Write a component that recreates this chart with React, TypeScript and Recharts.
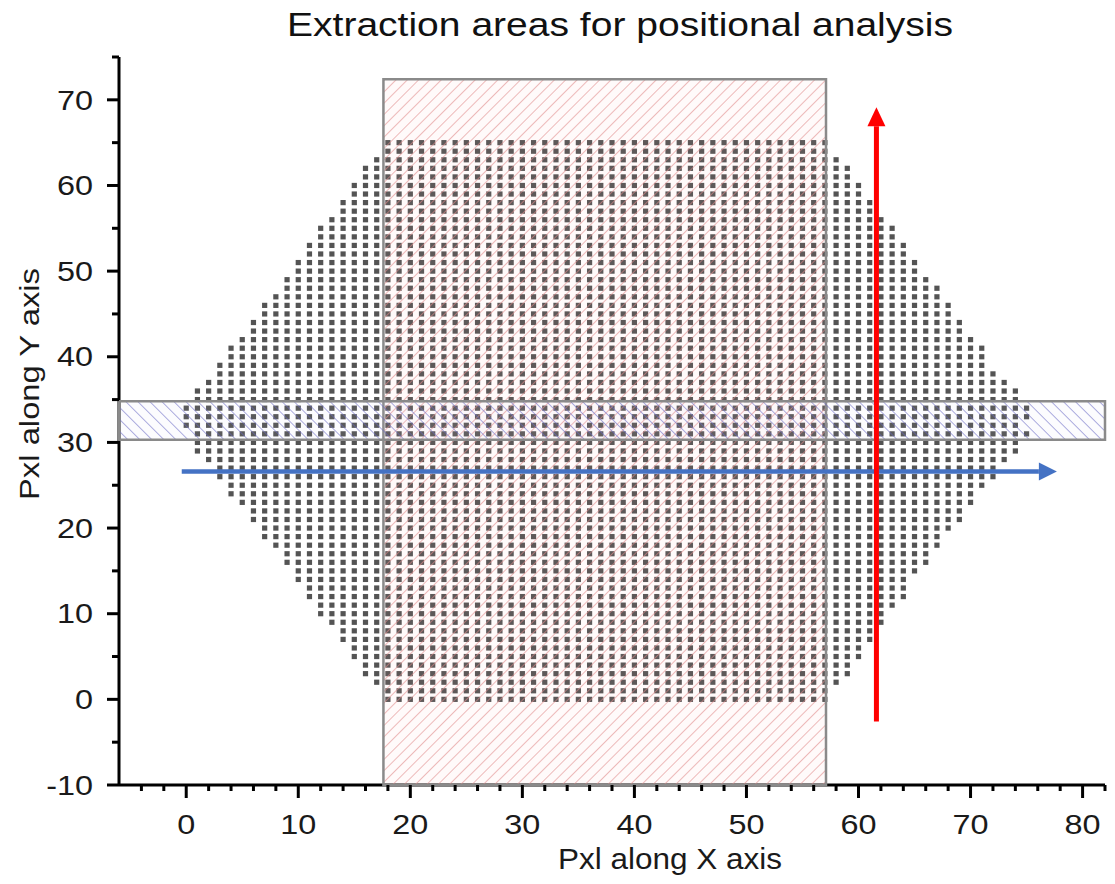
import React from "react";
import {
  ScatterChart, Scatter, XAxis, YAxis, ReferenceArea, ReferenceLine, ReferenceDot,
} from "recharts";

// occupied pixel columns per row (index = y, 0..65)
const rowStart = [
  18, 18, 17, 16, 16, 15, 15, 14, 14, 13, 12, 12, 11, 11, 10, 10, 9, 9, 8, 7,
  7, 6, 6, 5, 4, 4, 3, 3, 2, 1, 1, 1, 0, 0, 0, 1, 1, 2, 3, 3,
  4, 4, 5, 6, 6, 7, 7, 8, 9, 9, 10, 10, 11, 11, 12, 12, 13, 14, 14, 15,
  15, 16, 16, 17, 18, 18,
];
const rowEnd = [
  57, 57, 58, 59, 59, 60, 60, 61, 61, 62, 62, 63, 64, 64, 64, 65, 66, 66, 67, 67,
  68, 69, 69, 70, 70, 71, 72, 72, 73, 74, 74, 75, 74, 75, 75, 74, 74, 73, 72, 71,
  71, 71, 70, 69, 69, 68, 68, 67, 67, 66, 65, 65, 64, 64, 63, 63, 62, 61, 61, 60,
  60, 59, 59, 58, 57, 57,
];

const xTicks = [
  -4, -2, 0, 2, 4, 6, 8, 10, 12, 14, 16, 18, 20, 22, 24, 26, 28, 30, 32, 34, 36, 38, 40,
  42, 44, 46, 48, 50, 52, 54, 56, 58, 60, 62, 64, 66, 68, 70, 72, 74, 76, 78, 80, 82,
];
const yTicks = [-10, -5, 0, 5, 10, 15, 20, 25, 30, 35, 40, 45, 50, 55, 60, 65, 70, 75];

// extraction areas
const colBoxX = [17.6, 57.1];
const colBoxY = [-10, 72.4];
const rowBoxX = [-6, 82];
const rowBoxY = [30.3, 34.8];

// arrows: [start, where the head begins]
const redArrow = [{ x: 61.6, y: -2.6 }, { x: 61.6, y: 66.9 }];
const blueArrow = [{ x: -0.4, y: 26.6 }, { x: 76.1, y: 26.6 }];

const points = rowStart.flatMap((x0, y) => {
  const out: { x: number; y: number }[] = [];
  for (let x = x0; x <= rowEnd[y]; x++) out.push({ x, y });
  return out;
});

const FONT = "'Liberation Sans', Arial, sans-serif";
const TICK_LEN = 12;
const Y_GAP = 14;
const X_GAP = 18;
const STRETCH = 1.2; // reference glyphs are wider than Liberation's

const YTick = (props: any) => {
  const { x, y, payload } = props;
  const axisX = x + TICK_LEN + Y_GAP;
  const major = payload.value % 10 === 0;
  return (
    <g>
      <line x1={axisX - (major ? 12 : 7)} x2={axisX} y1={y} y2={y} stroke="#000" strokeWidth={3} />
      {major && (
        <text transform={`translate(${x},${y}) scale(${STRETCH},1)`} dy="0.36em" textAnchor="end" fontSize={27} fontFamily={FONT} fill="#1a1a1a">
          {payload.value}
        </text>
      )}
    </g>
  );
};

const XTick = (props: any) => {
  const { x, y, payload } = props;
  const axisY = y - TICK_LEN - X_GAP;
  const major = payload.value % 10 === 0;
  return (
    <g>
      <line x1={x} x2={x} y1={axisY} y2={axisY + (major ? 13 : 6)} stroke="#000" strokeWidth={3} />
      {major && (
        <text transform={`translate(${x},${y}) scale(${STRETCH},1)`} dy="0.71em" textAnchor="middle" fontSize={27} fontFamily={FONT} fill="#1a1a1a">
          {payload.value}
        </text>
      )}
    </g>
  );
};

const headShape = (dir: "up" | "right", color: string) => (p: any) => {
  const { cx, cy } = p;
  const d = dir === "up"
    ? `M${cx - 9},${cy} L${cx + 9},${cy} L${cx},${cy - 19} Z`
    : `M${cx},${cy - 9} L${cx},${cy + 9} L${cx + 18},${cy} Z`;
  return <path d={d} fill={color} />;
};

export default function App() {
  return (
    <div style={{ position: "absolute", left: 0, top: 0, background: "#fff" }}>
      <ScatterChart width={1115} height={884} margin={{ top: 57, right: 10, bottom: 0, left: 0 }}>
        <defs>
          <pattern id="hatchRed" patternUnits="userSpaceOnUse" width="8" height="8" patternTransform="rotate(45)">
            <rect width="8" height="8" fill="rgba(255,170,170,0.06)" />
            <line x1="0" y1="0" x2="0" y2="8" stroke="#e08c8c" strokeWidth="1.2" />
          </pattern>
          <pattern id="hatchBlue" patternUnits="userSpaceOnUse" width="8.5" height="8.5" patternTransform="rotate(-45)">
            <rect width="8.5" height="8.5" fill="rgba(190,190,240,0.05)" />
            <line x1="0" y1="0" x2="0" y2="8.5" stroke="#6a6ac4" strokeWidth="1.1" />
          </pattern>
        </defs>

        <text x={620} y={36} textAnchor="middle" fontSize={33} fontFamily={FONT} fill="#111" textLength={666} lengthAdjust="spacingAndGlyphs">
          Extraction areas for positional analysis
        </text>

        <XAxis
          type="number"
          dataKey="x"
          domain={[-6, 82]}
          ticks={xTicks}
          interval={0}
          height={99}
          tickSize={TICK_LEN}
          tickMargin={X_GAP}
          tickLine={false}
          tick={<XTick />}
          axisLine={{ stroke: "#000", strokeWidth: 3 }}
          label={{
            content: (lp: any) => {
              const vb = lp.viewBox;
              return (
                <text x={vb.x + vb.width / 2 + 58} y={vb.y + 84} textAnchor="middle" fontSize={29} fontFamily={FONT} fill="#1a1a1a" textLength={224} lengthAdjust="spacingAndGlyphs">
                  Pxl along X axis
                </text>
              );
            },
          }}
        />
        <YAxis
          type="number"
          dataKey="y"
          domain={[-10, 75]}
          ticks={yTicks}
          interval={0}
          width={119}
          tickSize={TICK_LEN}
          tickMargin={Y_GAP}
          tickLine={false}
          tick={<YTick />}
          axisLine={{ stroke: "#000", strokeWidth: 3 }}
          label={{
            content: (lp: any) => {
              const vb = lp.viewBox;
              const cx = vb.x + 30;
              const cy = vb.y + vb.height / 2 - 37;
              return (
                <text x={cx} y={cy} dominantBaseline="central" textAnchor="middle" transform={`rotate(-90, ${cx}, ${cy})`} fontSize={27} fontFamily={FONT} fill="#1a1a1a" textLength={232} lengthAdjust="spacingAndGlyphs">
                  Pxl along Y axis
                </text>
              );
            },
          }}
        />

        <Scatter
          data={points}
          isAnimationActive={false}
          shape={(p: any) => <rect x={p.cx - 2.6} y={p.cy - 2.6} width={5.2} height={5.2} fill="#545454" />}
        />

        <ReferenceArea
          x1={colBoxX[0]} x2={colBoxX[1]} y1={colBoxY[0]} y2={colBoxY[1]}
          fill="url(#hatchRed)" fillOpacity={1} stroke="#8a8a8a" strokeWidth={2.5}
          zIndex={700}
        />
        <ReferenceArea
          x1={rowBoxX[0]} x2={rowBoxX[1]} y1={rowBoxY[0]} y2={rowBoxY[1]}
          fill="url(#hatchBlue)" fillOpacity={1} stroke="#8a8a8a" strokeWidth={2.5}
          zIndex={700}
        />

        <ReferenceLine
          segment={blueArrow}
          stroke="#4472c4" strokeWidth={4.5}
          zIndex={800}
        />
        <ReferenceDot x={blueArrow[1].x} y={blueArrow[1].y} shape={headShape("right", "#4472c4")} zIndex={800} />
        <ReferenceLine
          segment={redArrow}
          stroke="#ff0000" strokeWidth={5}
          zIndex={800}
        />
        <ReferenceDot x={redArrow[1].x} y={redArrow[1].y} shape={headShape("up", "#ff0000")} zIndex={800} />
      </ScatterChart>
    </div>
  );
}
